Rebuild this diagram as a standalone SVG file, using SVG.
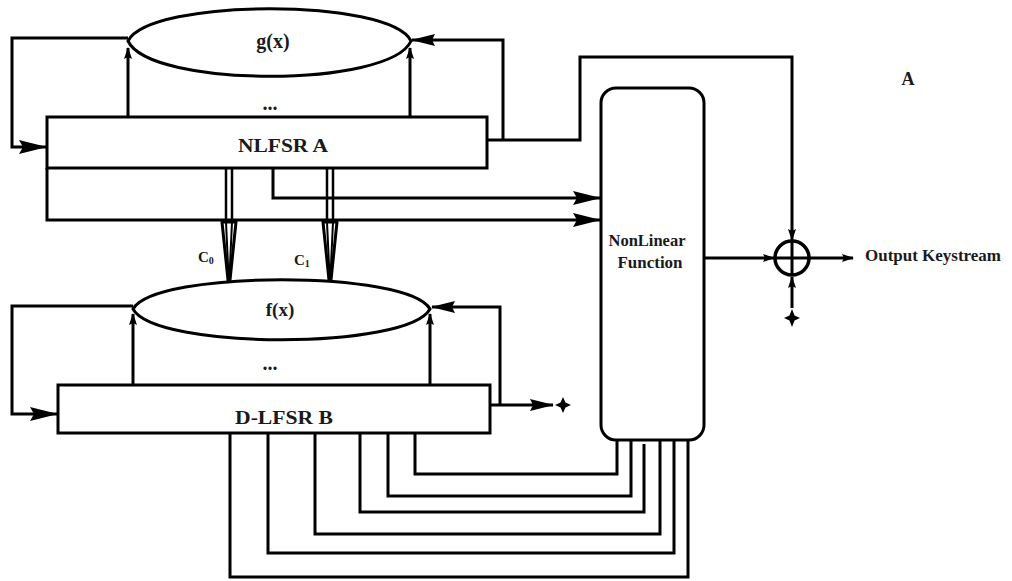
<svg xmlns="http://www.w3.org/2000/svg" width="1012" height="581" viewBox="0 0 1012 581">
<style>
.ln{fill:none;stroke:#000;stroke-width:3;stroke-linejoin:miter}
.box{fill:#fff;stroke:#000;stroke-width:3}
.t{font-family:"Liberation Serif",serif;font-weight:bold;fill:#1a1a1a;text-anchor:middle}
.star{fill:#000}
</style>
<defs>
<marker id="big" markerUnits="userSpaceOnUse" viewBox="0 0 28 14" markerWidth="28" markerHeight="14" refX="27" refY="7" orient="auto"><path d="M0,0 L28,7 L0,14 L4,7 Z"/></marker>
<marker id="mid" markerUnits="userSpaceOnUse" viewBox="0 0 24 12" markerWidth="24" markerHeight="12" refX="23" refY="6" orient="auto"><path d="M0,0 L24,6 L0,12 L3,6 Z"/></marker>
<marker id="sm" markerUnits="userSpaceOnUse" viewBox="0 0 12 8" markerWidth="12" markerHeight="8" refX="11" refY="4" orient="auto"><path d="M0,0 L12,4 L0,8 L2,4 Z"/></marker>
</defs>

<g id="connectors">
<path class="ln" d="M128,117 V48" marker-end="url(#sm)"/>
<path class="ln" d="M410,117 V48" marker-end="url(#sm)"/>
<path class="ln" d="M128,38 H12 V147 H46" marker-end="url(#big)"/>
<path class="ln" d="M487,140 H580 V57 H792 V240" marker-end="url(#sm)"/>
<path class="ln" d="M503,140 V40 H412" marker-end="url(#mid)"/>
<path class="ln" d="M273,168 V198 H600" marker-end="url(#big)"/>
<path class="ln" d="M47,168 V220 H600" marker-end="url(#big)"/>
<path class="ln" d="M133,385 V314" marker-end="url(#sm)"/>
<path class="ln" d="M430,385 V314" marker-end="url(#sm)"/>
<path class="ln" d="M133,306 H12 V414 H57" marker-end="url(#big)"/>
<path class="ln" d="M490,405 H553" marker-end="url(#mid)"/>
<path class="ln" d="M500,405 V307 H432" marker-end="url(#mid)"/>
<path class="ln" d="M704,258 H774" marker-end="url(#sm)"/>
<path class="ln" d="M810,258 H853" marker-end="url(#sm)"/>
<path class="ln" d="M792,308 V277" marker-end="url(#sm)"/>
<path class="ln" d="M415,433 V474 H617 V440"/>
<path class="ln" d="M388,433 V496 H631 V440"/>
<path class="ln" d="M360,433 V512 H644 V444"/>
<path class="ln" d="M315,433 V534 H660 V440"/>
<path class="ln" d="M268,433 V553 H674 V440"/>
<path class="ln" d="M230,433 V577 H688 V440"/>
<!-- C0 -->
<path class="ln" style="stroke-width:2.5" d="M226,167 V222 M232,167 V222"/>
<path style="fill:#fff;stroke:#000;stroke-width:3;stroke-linejoin:round" d="M222,222 H236 L230,280 H228 Z"/>
<path class="ln" style="stroke-width:2" d="M226,222 L228.5,276 M232,222 L229.5,276"/>
<!-- C1 -->
<path class="ln" style="stroke-width:2.5" d="M327,167 V222 M333,167 V222"/>
<path style="fill:#fff;stroke:#000;stroke-width:3;stroke-linejoin:round" d="M323,222 H337 L331,280 H329 Z"/>
<path class="ln" style="stroke-width:2" d="M327,222 L329.5,276 M333,222 L330.5,276"/>
</g>

<g id="gx">
<path class="box" d="M128,41 C150,-2 390,-2 411,41 C390,88 150,88 128,41 Z"/>
<text class="t" x="273" y="48" font-size="20">g(x)</text>
<text class="t" x="270" y="110" font-size="20">...</text>
</g>

<g id="nlfsrA">
<rect class="box" x="47" y="117" width="440" height="51"/>
<text class="t" x="283" y="152" font-size="19" textLength="90" lengthAdjust="spacingAndGlyphs">NLFSR A</text>
</g>

<g id="fx">
<path class="box" d="M133,309 C155,270 408,270 430,309 C408,350 155,350 133,309 Z"/>
<text class="t" x="280" y="316" font-size="19">f(x)</text>
<text class="t" x="270" y="370" font-size="20">...</text>
</g>

<g id="dlfsrB">
<rect class="box" x="58" y="385" width="432" height="48"/>
<text class="t" x="284" y="424" font-size="19" textLength="98" lengthAdjust="spacingAndGlyphs">D-LFSR B</text>
</g>

<g id="labels">
<text x="198" y="262" font-family="Liberation Serif,serif" font-weight="bold" font-size="15" fill="#1a1a1a">C<tspan font-size="10" dy="2">0</tspan></text>
<text x="294" y="265" font-family="Liberation Serif,serif" font-weight="bold" font-size="15" fill="#1a1a1a">C<tspan font-size="10" dy="2">1</tspan></text>
<text class="t" x="908" y="85" font-size="18">A</text>
</g>

<g id="nlf">
<rect class="box" x="601" y="88" width="103" height="352" rx="15" ry="15"/>
<text class="t" x="647" y="246" font-size="16" textLength="77" lengthAdjust="spacingAndGlyphs">NonLinear</text>
<text class="t" x="650" y="268" font-size="16" textLength="65" lengthAdjust="spacingAndGlyphs">Function</text>
</g>

<g id="xor">
<circle cx="792" cy="258" r="17" fill="#fff" stroke="#000" stroke-width="3.5"/>
<path class="ln" d="M775,258 H809 M792,241 V275"/>
</g>

<g id="output">
<text x="865" y="261" font-family="Liberation Serif,serif" font-weight="bold" font-size="16" fill="#1a1a1a" textLength="136" lengthAdjust="spacingAndGlyphs">Output Keystream</text>
</g>

<g id="star1">
<path class="star" d="M563,397 L565.5,402.5 L571,405 L565.5,407.5 L563,413 L560.5,407.5 L555,405 L560.5,402.5 Z"/>
</g>
<g id="star2">
<path class="star" d="M792,309 L794.5,315.5 L800,318 L794.5,320.5 L792,327 L789.5,320.5 L784,318 L789.5,315.5 Z"/>
</g>
</svg>
